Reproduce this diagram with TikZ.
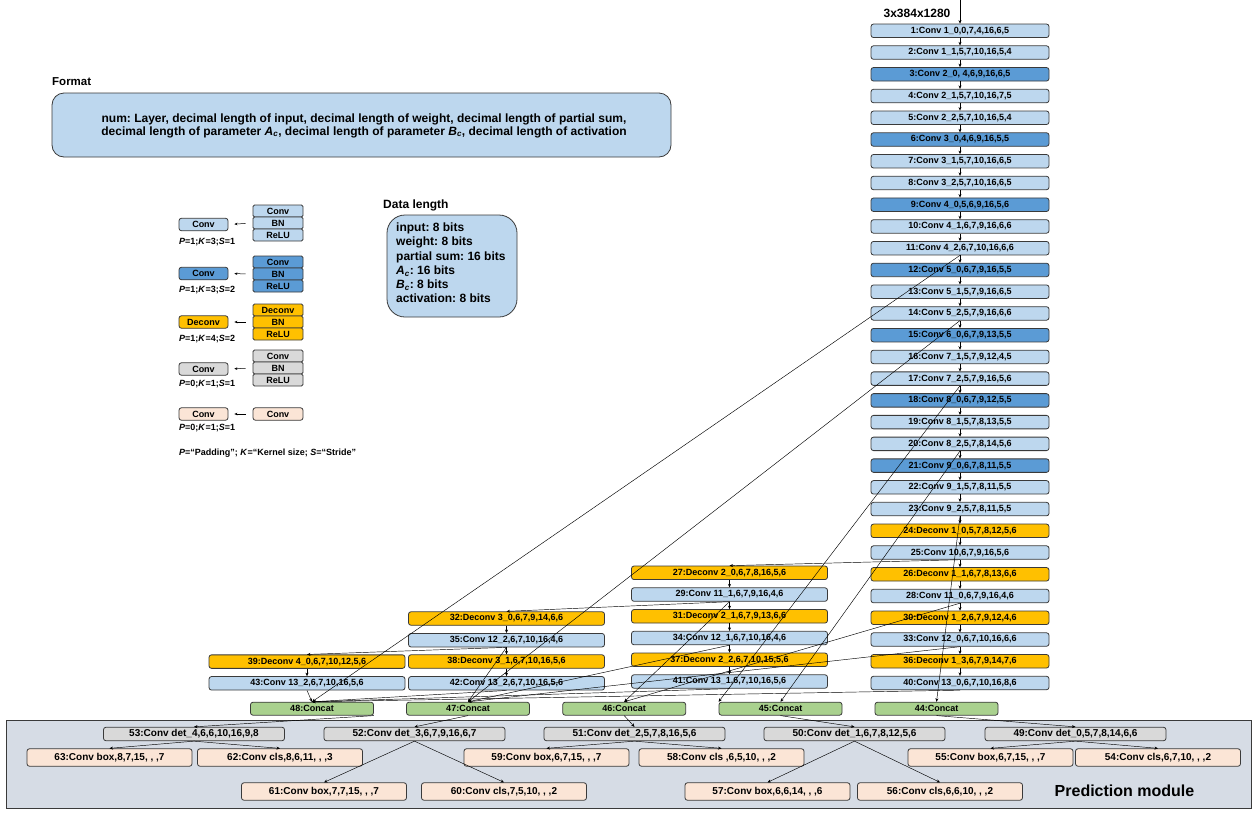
\documentclass[tikz,border=0pt]{standalone}
\usepackage{fontspec}
\setmainfont{Liberation Sans}
\usetikzlibrary{arrows.meta}
\frenchspacing
\definecolor{lblue}{HTML}{BDD7EE}
\definecolor{dblue}{HTML}{5B9BD5}
\definecolor{orng}{HTML}{FFC000}
\definecolor{gry}{HTML}{D9D9D9}
\definecolor{peach}{HTML}{FBE5D6}
\definecolor{grn}{HTML}{A9D18E}
\definecolor{modbg}{HTML}{D6DCE5}
\definecolor{edgec}{HTML}{3A3A3A}
\tikzset{
 lay/.style={draw=edgec, line width=0.8pt, rounded corners=2.5pt, minimum height=13.5pt, inner sep=0pt, font=\fontsize{9}{10}\selectfont\bfseries, text=black},
 mainbox/.style={lay, minimum width=178pt},
 sidebox/.style={lay, minimum width=196pt},
 catbox/.style={lay, fill=grn, minimum width=123pt, minimum height=13pt},
 detbox/.style={lay, fill=gry, minimum width=181pt, font=\fontsize{10}{11}\selectfont\bfseries},
 headbox/.style={lay, fill=peach, minimum width=165pt, minimum height=17.5pt, font=\fontsize{10}{11}\selectfont\bfseries},
 LB/.style={fill=lblue}, DB/.style={fill=dblue}, OR/.style={fill=orng}, GR/.style={fill=gry}, PE/.style={fill=peach},
 smallbox/.style={lay, minimum width=49pt, minimum height=12.5pt},
 stackbox/.style={lay, rounded corners=1.5pt, minimum width=50pt, minimum height=12pt},
 arr/.style={-{Stealth[length=3.5pt,width=3pt]}, line width=0.45pt, draw=black},
 larr/.style={-{Stealth[length=3pt,width=2.6pt]}, line width=0.5pt, draw=black, shorten >=6pt, shorten <=7pt},
 plabel/.style={anchor=west, inner sep=0pt, font=\fontsize{9}{10}\selectfont\bfseries},
}
\begin{document}
\begin{tikzpicture}[x=1pt,y=-1pt]
\useasboundingbox (0,0) rectangle (1253,812);
% ---------- Legend ----------
\node[anchor=west, inner sep=0pt, font=\fontsize{11.5}{13}\selectfont\bfseries] (fmtlabel) at (52,82) {Format};
\draw[draw=edgec, line width=0.8pt, fill=lblue, rounded corners=12pt] (52,93) rectangle (671,157);
\node[align=center, inner sep=0pt, font=\fontsize{12}{13}\selectfont\bfseries] (fmttext) at (364,125.5) {num: Layer, decimal length of input, decimal length of weight, decimal length of partial sum,\\decimal length of parameter \textit{A\textsubscript{c}}, decimal length of parameter \textit{B\textsubscript{c}}, decimal length of activation};

\node[anchor=west, inner sep=0pt, font=\fontsize{12}{13}\selectfont\bfseries] (dllabel) at (383,205) {Data length};
\draw[draw=edgec, line width=0.8pt, fill=lblue, rounded corners=18pt] (387,215) rectangle (517,317);
\node[anchor=north west, align=left, inner sep=0pt, font=\fontsize{12}{14.3}\selectfont\bfseries] (dltext) at (396,222.5) {input: 8 bits\\weight: 8 bits\\partial sum: 16 bits\\\textit{A\textsubscript{c}}: 16 bits\\\textit{B\textsubscript{c}}: 8 bits\\activation: 8 bits};

% row 1
\node[smallbox,LB] (s1) at (203.5,224.5) {Conv};
\node[stackbox,LB] (a1) at (278,211) {Conv};
\node[stackbox,LB] (b1) at (278,223) {BN};
\node[stackbox,LB] (c1) at (278,235) {ReLU};
\draw[larr] (b1.west) -- (s1.east);
\node[plabel] (p1) at (179,242) {\textit{P}=1;\textit{K}=3;\textit{S}=1};
% row 2
\node[smallbox,DB] (s2) at (203.5,273.5) {Conv};
\node[stackbox,DB] (a2) at (278,262) {Conv};
\node[stackbox,DB] (b2) at (278,274) {BN};
\node[stackbox,DB] (c2) at (278,286) {ReLU};
\draw[larr] (b2.west) -- (s2.east);
\node[plabel] (p2) at (179,290.5) {\textit{P}=1;\textit{K}=3;\textit{S}=2};
% row 3
\node[smallbox,OR] (s3) at (203.5,322) {Deconv};
\node[stackbox,OR] (a3) at (278,310) {Deconv};
\node[stackbox,OR] (b3) at (278,322) {BN};
\node[stackbox,OR] (c3) at (278,334) {ReLU};
\draw[larr] (b3.west) -- (s3.east);
\node[plabel] (p3) at (179,339.5) {\textit{P}=1;\textit{K}=4;\textit{S}=2};
% row 4
\node[smallbox,GR] (s4) at (203.5,369) {Conv};
\node[stackbox,GR] (a4) at (278,356) {Conv};
\node[stackbox,GR] (b4) at (278,368) {BN};
\node[stackbox,GR] (c4) at (278,380) {ReLU};
\draw[larr] (b4.west) -- (s4.east);
\node[plabel] (p4) at (179,384.5) {\textit{P}=0;\textit{K}=1;\textit{S}=1};
% row 5
\node[smallbox,PE] (s5) at (203.5,414) {Conv};
\node[stackbox,PE, rounded corners=2.5pt, minimum height=12.5pt] (a5) at (278,414) {Conv};
\draw[larr] (a5.west) -- (s5.east);
\node[plabel] (p5) at (179,428.5) {\textit{P}=0;\textit{K}=1;\textit{S}=1};
\node[plabel] (foot) at (179,453) {\textit{P}=“Padding”; \textit{K}=“Kernel size; \textit{S}=“Stride”};

% ---------- Prediction module frame ----------
\draw[draw=edgec, line width=1pt, fill=modbg] (6,720) rectangle (1251,808);
\node[font=\fontsize{16}{18}\selectfont\bfseries, inner sep=0pt] (pmtext) at (1124.5,791) {Prediction module};

% ---------- Main column ----------
\node[anchor=center, inner sep=0pt, font=\fontsize{12}{13}\selectfont\bfseries] (inlabel) at (917,13) {3x384x1280};
\coordinate (inp) at (960,0);
\node[mainbox,LB] (n1) at (960,30.8) {1:Conv 1\_0,0,7,4,16,6,5};
\node[mainbox,LB] (n2) at (960,52.54) {2:Conv 1\_1,5,7,10,16,5,4};
\node[mainbox,DB] (n3) at (960,74.28) {3:Conv 2\_0, 4,6,9,16,6,5};
\node[mainbox,LB] (n4) at (960,96.02) {4:Conv 2\_1,5,7,10,16,7,5};
\node[mainbox,LB] (n5) at (960,117.76) {5:Conv 2\_2,5,7,10,16,5,4};
\node[mainbox,DB] (n6) at (960,139.5) {6:Conv 3\_0,4,6,9,16,5,5};
\node[mainbox,LB] (n7) at (960,161.24) {7:Conv 3\_1,5,7,10,16,6,5};
\node[mainbox,LB] (n8) at (960,182.98) {8:Conv 3\_2,5,7,10,16,6,5};
\node[mainbox,DB] (n9) at (960,204.72) {9:Conv 4\_0,5,6,9,16,5,6};
\node[mainbox,LB] (n10) at (960,226.46) {10:Conv 4\_1,6,7,9,16,6,6};
\node[mainbox,LB] (n11) at (960,248.2) {11:Conv 4\_2,6,7,10,16,6,6};
\node[mainbox,DB] (n12) at (960,269.94) {12:Conv 5\_0,6,7,9,16,5,5};
\node[mainbox,LB] (n13) at (960,291.68) {13:Conv 5\_1,5,7,9,16,6,5};
\node[mainbox,LB] (n14) at (960,313.42) {14:Conv 5\_2,5,7,9,16,6,6};
\node[mainbox,DB] (n15) at (960,335.16) {15:Conv 6\_0,6,7,9,13,5,5};
\node[mainbox,LB] (n16) at (960,356.9) {16:Conv 7\_1,5,7,9,12,4,5};
\node[mainbox,LB] (n17) at (960,378.64) {17:Conv 7\_2,5,7,9,16,5,6};
\node[mainbox,DB] (n18) at (960,400.38) {18:Conv 8\_0,6,7,9,12,5,5};
\node[mainbox,LB] (n19) at (960,422.12) {19:Conv 8\_1,5,7,8,13,5,5};
\node[mainbox,LB] (n20) at (960,443.86) {20:Conv 8\_2,5,7,8,14,5,6};
\node[mainbox,DB] (n21) at (960,465.6) {21:Conv 9\_0,6,7,8,11,5,5};
\node[mainbox,LB] (n22) at (960,487.34) {22:Conv 9\_1,5,7,8,11,5,5};
\node[mainbox,LB] (n23) at (960,509.08) {23:Conv 9\_2,5,7,8,11,5,5};
\node[mainbox,OR] (n24) at (960,530.82) {24:Deconv 1\_0,5,7,8,12,5,6};
\node[mainbox,LB] (n25) at (960,552.56) {25:Conv 10,6,7,9,16,5,6};
\node[mainbox,OR] (n26) at (960,574.3) {26:Deconv 1\_1,6,7,8,13,6,6};
\node[mainbox,LB] (n28) at (960,596.04) {28:Conv 11\_0,6,7,9,16,4,6};
\node[mainbox,OR] (n30) at (960,617.78) {30:Deconv 1\_2,6,7,9,12,4,6};
\node[mainbox,LB] (n33) at (960,639.52) {33:Conv 12\_0,6,7,10,16,6,6};
\node[mainbox,OR] (n36) at (960,661.26) {36:Deconv 1\_3,6,7,9,14,7,6};
\node[mainbox,LB] (n40) at (960,683) {40:Conv 13\_0,6,7,10,16,8,6};

% ---------- Column 3 ----------
\node[sidebox,OR] (n27) at (729.5,572.8) {27:Deconv 2\_0,6,7,8,16,5,6};
\node[sidebox,LB] (n29) at (729.5,594.54) {29:Conv 11\_1,6,7,9,16,4,6};
\node[sidebox,OR] (n31) at (729.5,616.28) {31:Deconv 2\_1,6,7,9,13,6,6};
\node[sidebox,LB] (n34) at (729.5,638.02) {34:Conv 12\_1,6,7,10,16,4,6};
\node[sidebox,OR] (n37) at (729.5,659.76) {37:Deconv 2\_2,6,7,10,15,5,6};
\node[sidebox,LB] (n41) at (729.5,681.5) {41:Conv 13\_1,6,7,10,16,5,6};
% ---------- Column 2 ----------
\node[sidebox,OR] (n32) at (506.5,618.5) {32:Deconv 3\_0,6,7,9,14,6,6};
\node[sidebox,LB] (n35) at (506.5,640.2) {35:Conv 12\_2,6,7,10,16,4,6};
\node[sidebox,OR] (n38) at (506.5,661.5) {38:Deconv 3\_1,6,7,10,16,5,6};
\node[sidebox,LB] (n42) at (506.5,683.3) {42:Conv 13\_2,6,7,10,16,5,6};
% ---------- Column 1 ----------
\node[sidebox,OR] (n39) at (307,661.6) {39:Deconv 4\_0,6,7,10,12,5,6};
\node[sidebox,LB] (n43) at (307,683.3) {43:Conv 13\_2,6,7,10,16,5,6};

% ---------- Concat ----------
\node[catbox] (c48) at (312,708.7) {48:Concat};
\node[catbox] (c47) at (468,708.7) {47:Concat};
\node[catbox] (c46) at (624.2,708.7) {46:Concat};
\node[catbox] (c45) at (780.5,708.7) {45:Concat};
\node[catbox] (c44) at (936.5,708.7) {44:Concat};

% ---------- Prediction ----------
\node[detbox] (d53) at (194,734) {53:Conv det\_4,6,6,10,16,9,8};
\node[detbox] (d52) at (414.5,734) {52:Conv det\_3,6,7,9,16,6,7};
\node[detbox] (d51) at (634.5,734) {51:Conv det\_2,5,7,8,16,5,6};
\node[detbox] (d50) at (854.5,734) {50:Conv det\_1,6,7,8,12,5,6};
\node[detbox] (d49) at (1075.5,734) {49:Conv det\_0,5,7,8,14,6,6};
\node[headbox] (h63) at (109.5,757.5) {63:Conv box,8,7,15, , ,7};
\node[headbox] (h62) at (280,757.5) {62:Conv cls,8,6,11, , ,3};
\node[headbox] (h59) at (546.5,757.5) {59:Conv box,6,7,15, , ,7};
\node[headbox] (h58) at (721.5,757.5) {58:Conv cls ,6,5,10, , ,2};
\node[headbox] (h55) at (990.5,757.5) {55:Conv box,6,7,15, , ,7};
\node[headbox] (h54) at (1158,757.5) {54:Conv cls,6,7,10, , ,2};
\node[headbox] (h61) at (324,791.5) {61:Conv box,7,7,15, , ,7};
\node[headbox] (h60) at (504,791.5) {60:Conv cls,7,5,10, , ,2};
\node[headbox] (h57) at (767.5,791.5) {57:Conv box,6,6,14, , ,6};
\node[headbox] (h56) at (940,791.5) {56:Conv cls,6,6,10, , ,2};

% ---------- Connectors ----------
\draw[arr] (inp) -- (n1.north);
\foreach \a/\b in {1/2,2/3,3/4,4/5,5/6,6/7,7/8,8/9,9/10,10/11,11/12,12/13,13/14,14/15,15/16,16/17,17/18,18/19,19/20,20/21,21/22,22/23,23/24,24/25,25/26,26/28,28/30,30/33,33/36,36/40,
  27/29,29/31,31/34,34/37,37/41, 32/35,35/38,38/42, 39/43}
  \draw[arr] (n\a.south) -- (n\b.north);
% deconv inputs
\draw[arr] (n25.south) -- (n27.north);
\draw[arr] (n29.south) -- (n32.north);
\draw[arr] (n35.south) -- (n39.north);
% to concat
\draw[arr] (n23.south) -- (c44.north);
\draw[arr] (n20.south) -- (c45.north);
\draw[arr] (n17.south) -- (c45.north west);
\draw[arr] (n28.south) -- (c46.north);
\draw[arr] (n29.south) -- (c46.north);
\draw[arr] (n14.south) -- (c47.north);
\draw[arr] (n33.south) -- (c47.north);
\draw[arr] (n34.south) -- (c47.north);
\draw[arr] (n35.south) -- (c47.north);
\draw[arr] (n11.south) -- (c48.north);
\draw[arr] (n40.south) -- (c48.north);
\draw[arr] (n41.south) -- (c48.north);
\draw[arr] (n42.south) -- (c48.north);
\draw[arr] (n43.south) -- (c48.north);
% concat to det
\draw[arr] (c48.south east) -- (d53.north);
\draw[arr] (c47.south) -- (d52.north);
\draw[arr] (c46.south) -- (d51.north);
\draw[arr] (c45.south) -- (d50.north);
\draw[arr] (c44.south) -- (d49.north);
% det to heads
\draw[arr] (d53.south) -- (h63.north);
\draw[arr] (d53.south) -- (h62.north);
\draw[arr] (d52.south) -- (h61.north);
\draw[arr] (d52.south) -- (h60.north);
\draw[arr] (d51.south) -- (h59.north);
\draw[arr] (d51.south) -- (h58.north);
\draw[arr] (d50.south) -- (h57.north);
\draw[arr] (d50.south) -- (h56.north);
\draw[arr] (d49.south) -- (h55.north);
\draw[arr] (d49.south) -- (h54.north);
\end{tikzpicture}
\end{document}
